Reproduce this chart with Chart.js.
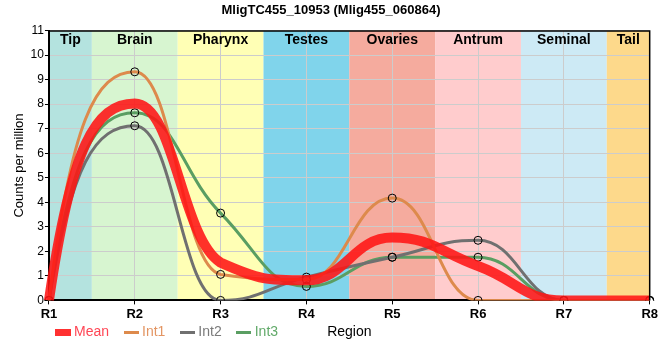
<!DOCTYPE html>
<html>
<head>
<meta charset="utf-8">
<script src="https://cdn.jsdelivr.net/npm/chart.js@4.4.1/dist/chart.umd.min.js"></script>
<style>
  html, body { margin: 0; padding: 0; background: #fff; }
</style>
</head>
<body>
<canvas id="myChart" width="660" height="360"></canvas>
<script>
// Chart data
const regions = ["R1", "R2", "R3", "R4", "R5", "R6", "R7", "R8"];
const meanVals = [0, 8.03, 1.54, 0.82, 2.56, 1.40, 0, 0];
const int1Vals = [0, 9.32, 1.06, 0.85, 4.17, 0, 0, 0];
const int2Vals = [0, 7.12, 0, 0.95, 1.76, 2.45, 0, 0];
const int3Vals = [0, 7.65, 3.56, 0.57, 1.76, 1.76, 0, 0];

// Tissue bands along the x axis
const bandNames = ["Tip", "Brain", "Pharynx", "Testes", "Ovaries", "Antrum", "Seminal", "Tail"];
const bandColors = ["#b4e3df", "#d7f5d0", "#ffffb5", "#80d4eb", "#f5ab9e", "#ffcccd", "#cdeaf5", "#fdd98b"];

const FONT = "'Liberation Sans', Arial, sans-serif";
Chart.defaults.font.family = FONT;
Chart.defaults.font.size = 12;
Chart.defaults.color = "#000";

const meanColor = "rgba(255, 20, 20, 0.88)";

// small legend swatches (thick bar for Mean, thin lines for the others)
function swatch(w, h, color) {
  const c = document.createElement("canvas");
  c.width = w;
  c.height = h;
  const g = c.getContext("2d");
  g.fillStyle = color;
  g.fillRect(0, 0, w, h);
  return c;
}

// stretch the bezier handles so curves flatten at the sample points
// and turn more sharply in between
function stretchHandles(points) {
  const K = 0.46, KEND = 0.26;
  const clamp = (v, a, b) => Math.max(Math.min(a, b), Math.min(Math.max(a, b), v));
  for (let i = 0; i < points.length; i++) {
    const p = points[i];
    const prev = points[i - 1];
    const next = points[i + 1];
    let s;
    if (prev && next) {
      const hx = p.cp2x - p.x;
      s = hx !== 0 ? (p.cp2y - p.y) / hx : 0;
    } else {
      const o = prev || next;
      s = 3 * (o.y - p.y) / (o.x - p.x);
    }
    const k = prev && next ? K : KEND;
    if (prev) {
      const d = p.x - prev.x;
      p.cp1x = p.x - k * d;
      p.cp1y = clamp(p.y - s * k * d, p.y, prev.y);
    }
    if (next) {
      const d = next.x - p.x;
      p.cp2x = p.x + k * d;
      p.cp2y = clamp(p.y + s * k * d, p.y, next.y);
    }
  }
}

const bandsPlugin = {
  id: "bands",
  afterLayout(chart) {
    const area = chart.chartArea;
    // legend sits in one row with the "Region" axis label
    chart.legend.left = 41;
    chart.legend.top = area.bottom + 7;
  },
  beforeDraw(chart) {
    const ctx = chart.ctx;
    const x = chart.scales.x;
    const area = chart.chartArea;
    ctx.save();
    for (let i = 0; i < bandNames.length; i++) {
      const x0 = x.getPixelForValue(Math.max(0, i - 0.5));
      const x1 = x.getPixelForValue(Math.min(regions.length - 1, i + 0.5));
      ctx.fillStyle = bandColors[i];
      ctx.fillRect(x0, area.top, x1 - x0, area.bottom - area.top);
    }
    ctx.restore();
  },
  beforeDatasetDraw(chart, args) {
    const line = args.meta.dataset;
    line.updateControlPoints(chart.chartArea, "x");
    stretchHandles(args.meta.data);
  },
  afterDraw(chart) {
    const ctx = chart.ctx;
    const x = chart.scales.x;
    const area = chart.chartArea;
    ctx.save();
    ctx.fillStyle = "#000";
    ctx.font = "bold 14px " + FONT;
    ctx.textAlign = "center";
    ctx.textBaseline = "middle";
    for (let i = 0; i < bandNames.length; i++) {
      const x0 = x.getPixelForValue(Math.max(0, i - 0.5));
      const x1 = x.getPixelForValue(Math.min(regions.length - 1, i + 0.5));
      ctx.fillText(bandNames[i], (x0 + x1) / 2, area.top + 10);
    }
    // x axis title, on the legend row
    ctx.font = "14px " + FONT;
    ctx.fillText("Region", (area.left + area.right) / 2, area.bottom + 32);
    // top and right frame
    ctx.strokeStyle = "#000";
    ctx.lineWidth = 1.5;
    ctx.beginPath();
    ctx.moveTo(area.left, area.top + 0.5);
    ctx.lineTo(area.right, area.top + 0.5);
    ctx.lineTo(area.right, area.bottom);
    ctx.stroke();
    ctx.restore();
  },
};

const lineSet = (label, data, color) => ({
  label: label,
  data: data,
  borderColor: color,
  backgroundColor: color,
  borderWidth: 3,
  cubicInterpolationMode: "monotone",
  pointRadius: 4,
  pointBackgroundColor: "rgba(0,0,0,0)",
  pointBorderColor: "#000",
  pointBorderWidth: 1,
  fill: false,
});

const data = {
  labels: regions,
  datasets: [
    {
      label: "Mean",
      data: meanVals,
      borderColor: meanColor,
      backgroundColor: meanColor,
      borderWidth: 10,
      cubicInterpolationMode: "monotone",
      pointRadius: 0,
      fill: false,
    },
    lineSet("Int1", int1Vals, "#dd8a4c"),
    lineSet("Int2", int2Vals, "#707070"),
    lineSet("Int3", int3Vals, "#5a9e62"),
  ],
};

const legendText = ["#ff4655", "#e39563", "#7a7a7a", "#62aa6a"];
const legendMarks = [
  swatch(16, 7, meanColor),
  swatch(15, 3, "#dd8a4c"),
  swatch(15, 3, "#707070"),
  swatch(15, 3, "#5a9e62"),
];

const config = {
  type: "line",
  data: data,
  options: {
    responsive: false,
    animation: false,
    layout: { padding: { left: 12, right: 10, top: 0, bottom: 8 } },
    plugins: {
      title: {
        display: true,
        text: "MligTC455_10953 (Mlig455_060864)",
        font: { size: 13, weight: "bold" },
        color: "#000",
        padding: { top: 3, bottom: 12 },
      },
      legend: {
        position: "bottom",
        align: "start",
        maxHeight: 28,
        labels: {
          usePointStyle: true,
          boxWidth: 8,
          boxHeight: 8,
          padding: 18,
          font: { size: 14 },
          generateLabels(chart) {
            return chart.data.datasets.map((ds, i) => ({
              text: ds.label,
              fillStyle: ds.borderColor,
              strokeStyle: ds.borderColor,
              lineWidth: 0,
              pointStyle: legendMarks[i],
              fontColor: legendText[i],
              hidden: false,
              datasetIndex: i,
            }));
          },
        },
      },
      tooltip: { enabled: false },
    },
    scales: {
      x: {
        offset: false,
        grid: { color: "#cccccc", tickColor: "#000", tickLength: 4 },
        border: { color: "#000", width: 2 },
        ticks: { font: { size: 13, weight: "bold" }, color: "#000", padding: 2 },
      },
      y: {
        min: 0,
        max: 11,
        ticks: { stepSize: 1, font: { size: 12 }, color: "#000", padding: 1 },
        grid: { color: "#cccccc", tickColor: "#000", tickLength: 4 },
        border: { color: "#000", width: 2 },
        title: {
          display: true,
          text: "Counts per million",
          font: { size: 13 },
          color: "#000",
          padding: { top: 0, bottom: 2 },
        },
      },
    },
  },
  plugins: [bandsPlugin],
};

const myChart = new Chart(document.getElementById("myChart"), config);
</script>
</body>
</html>
